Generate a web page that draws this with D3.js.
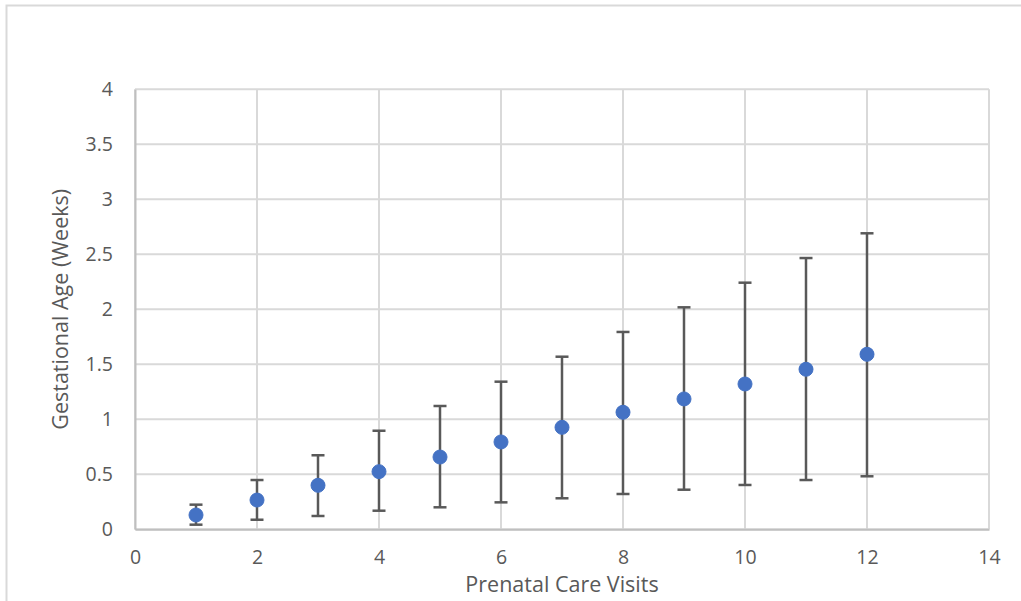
<!DOCTYPE html>
<html>
<head>
<meta charset="utf-8">
<script src="https://cdn.jsdelivr.net/npm/d3@7"></script>
<style>
html,body{margin:0;padding:0;background:#fff;}
svg{display:block;}
text{font-family:"Open Sans",sans-serif;fill:#595959;}
</style>
</head>
<body>
<svg id="chart" width="1021" height="601"></svg>
<script>
const visits = [1,2,3,4,5,6,7,8,9,10,11,12];
const meanAge = [0.13,0.266,0.40,0.524,0.657,0.794,0.927,1.064,1.185,1.321,1.455,1.591];
const upperAge = [0.224,0.448,0.673,0.896,1.121,1.342,1.569,1.794,2.018,2.242,2.466,2.691];
const lowerAge = [0.042,0.087,0.121,0.169,0.20,0.245,0.282,0.321,0.36,0.403,0.448,0.482];
const xTicks = [0,2,4,6,8,10,12,14];
const yTicks = [0,0.5,1,1.5,2,2.5,3,3.5,4];
const xTitle = "Prenatal Care Visits";
const yTitle = "Gestational Age (Weeks)";

const svg = d3.select("#chart");
const m = {left:135, right:989, top:89.3, bottom:529.3};

// chart border
svg.append("rect").attr("x",6.5).attr("y",5.5).attr("width",1030).attr("height",620)
  .attr("fill","none").attr("stroke","#d9d9d9").attr("stroke-width",2);

const x = d3.scaleLinear().domain([0,14]).range([m.left,m.right]);
const y = d3.scaleLinear().domain([0,4]).range([m.bottom,m.top]);

// gridlines
svg.append("g").selectAll("line").data(yTicks).join("line")
  .attr("x1",m.left).attr("x2",m.right).attr("y1",d=>y(d)).attr("y2",d=>y(d))
  .attr("stroke","#d9d9d9").attr("stroke-width",2);
svg.append("g").selectAll("line").data(xTicks).join("line")
  .attr("y1",m.top).attr("y2",m.bottom).attr("x1",d=>x(d)).attr("x2",d=>x(d))
  .attr("stroke","#d9d9d9").attr("stroke-width",2);

// axes
const xAxis = svg.append("g").attr("transform",`translate(0,${m.bottom})`)
  .call(d3.axisBottom(x).tickValues(xTicks).tickSize(0).tickPadding(21).tickFormat(d3.format("d")));
xAxis.select(".domain").attr("stroke","#bfbfbf").attr("stroke-width",2);
xAxis.selectAll("text").attr("font-size",19.5).attr("fill","#595959").attr("font-family","Open Sans");

const yAxis = svg.append("g").attr("transform",`translate(${m.left},0)`)
  .call(d3.axisLeft(y).tickValues(yTicks).tickSize(0).tickPadding(22).tickFormat(d=>String(d)));
yAxis.select(".domain").attr("stroke","#bfbfbf").attr("stroke-width",2);
yAxis.selectAll("text").attr("font-size",19.5).attr("fill","#595959").attr("font-family","Open Sans");

// error bars
const eb = svg.append("g");
const data = visits.map((v,i)=>({v, m:meanAge[i], hi:upperAge[i], lo:lowerAge[i]}));
eb.selectAll(".v").data(data).join("line")
  .attr("x1",d=>x(d.v)).attr("x2",d=>x(d.v)).attr("y1",d=>y(d.hi)).attr("y2",d=>y(d.lo))
  .attr("stroke","#595959").attr("stroke-width",2.5);
eb.selectAll(".ct").data(data).join("line")
  .attr("x1",d=>x(d.v)-6.5).attr("x2",d=>x(d.v)+6.5).attr("y1",d=>y(d.hi)).attr("y2",d=>y(d.hi))
  .attr("stroke","#595959").attr("stroke-width",2.5);
eb.selectAll(".cb").data(data).join("line")
  .attr("x1",d=>x(d.v)-6.5).attr("x2",d=>x(d.v)+6.5).attr("y1",d=>y(d.lo)).attr("y2",d=>y(d.lo))
  .attr("stroke","#595959").attr("stroke-width",2.5);

// markers
svg.append("g").selectAll("circle").data(data).join("circle")
  .attr("cx",d=>x(d.v)).attr("cy",d=>y(d.m)).attr("r",7)
  .attr("fill","#4472c4").attr("stroke","#4472c4").attr("stroke-width",1);

// titles
svg.append("text").attr("x",(m.left+m.right)/2).attr("y",592).attr("text-anchor","middle")
  .attr("font-size",21.5).text(xTitle);
svg.append("text").attr("transform",`translate(68,${(m.top+m.bottom)/2}) rotate(-90)`)
  .attr("text-anchor","middle").attr("font-size",21.5).text(yTitle);
</script>
</body>
</html>
